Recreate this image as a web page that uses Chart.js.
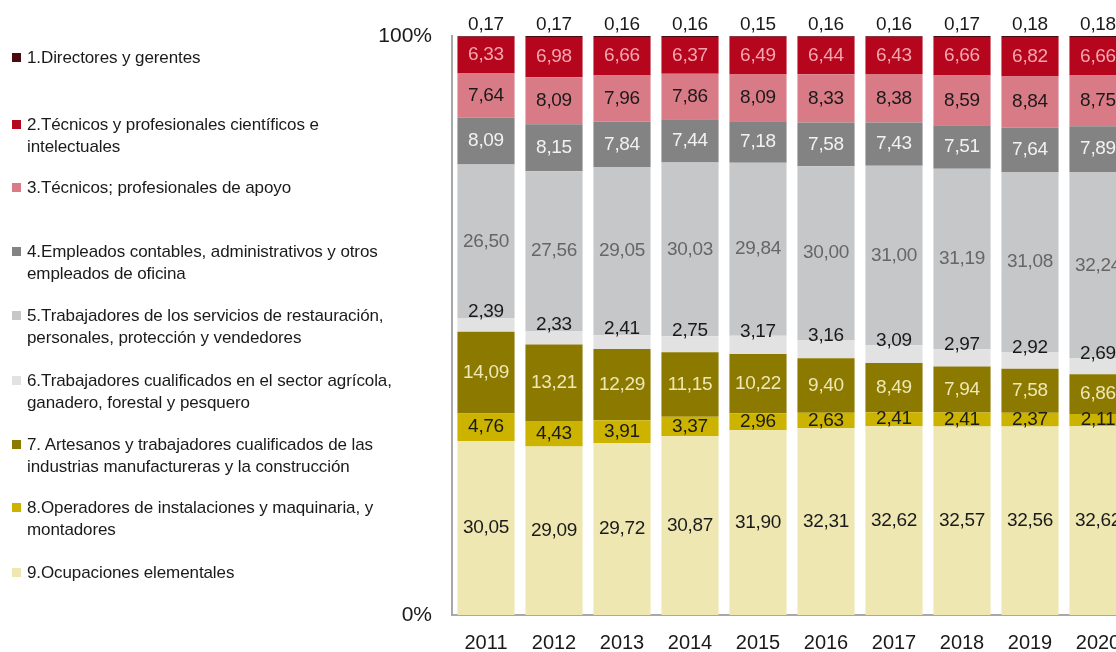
<!DOCTYPE html>
<html>
<head>
<meta charset="utf-8">
<script src="https://cdn.jsdelivr.net/npm/chart.js@4.4.0/dist/chart.umd.min.js"></script>
<style>
body { margin: 0; background: #fff; overflow: hidden; font-family: "Liberation Sans", Arial, sans-serif; }
#contenedor { position: relative; width: 1116px; height: 652px; overflow: hidden; }
#grafico { position: absolute; left: 0; top: 0; }
#leyenda { position: absolute; left: 0; top: 0; }
.item { position: absolute; left: 27px; font-size: 17px; line-height: 21.5px; color: #1a1a1a; letter-spacing: -0.1px; white-space: nowrap; }
.cuadro { position: absolute; left: -15px; top: 6px; width: 9px; height: 9px; }
</style>
</head>
<body>
<div id="contenedor">
  <canvas id="grafico" width="1140" height="652"></canvas>
  <div id="leyenda"></div>
</div>
<script>
// Datos del gráfico (porcentaje de ocupados por ocupación)
const anios = ["2011", "2012", "2013", "2014", "2015", "2016", "2017", "2018", "2019", "2020"];

const categorias = [
    ["1.Directores y gerentes"],
    ["2.Técnicos y profesionales científicos e", "intelectuales"],
    ["3.Técnicos; profesionales de apoyo"],
    ["4.Empleados contables, administrativos y otros", "empleados de oficina"],
    ["5.Trabajadores de los servicios de restauración,", "personales, protección y vendedores"],
    ["6.Trabajadores cualificados en el sector agrícola,", "ganadero, forestal y pesquero"],
    ["7. Artesanos y trabajadores cualificados de las", "industrias manufactureras y la construcción"],
    ["8.Operadores de instalaciones y maquinaria, y", "montadores"],
    ["9.Ocupaciones elementales"]
];

const directores = [0.17, 0.17, 0.16, 0.16, 0.15, 0.16, 0.16, 0.17, 0.18, 0.18];
const tecnicosCientificos = [6.33, 6.98, 6.66, 6.37, 6.49, 6.44, 6.43, 6.66, 6.82, 6.66];
const tecnicosApoyo = [7.64, 8.09, 7.96, 7.86, 8.09, 8.33, 8.38, 8.59, 8.84, 8.75];
const empleadosOficina = [8.09, 8.15, 7.84, 7.44, 7.18, 7.58, 7.43, 7.51, 7.64, 7.89];
const servicios = [26.50, 27.56, 29.05, 30.03, 29.84, 30.00, 31.00, 31.19, 31.08, 32.24];
const agricolas = [2.39, 2.33, 2.41, 2.75, 3.17, 3.16, 3.09, 2.97, 2.92, 2.69];
const artesanos = [14.09, 13.21, 12.29, 11.15, 10.22, 9.40, 8.49, 7.94, 7.58, 6.86];
const operadores = [4.76, 4.43, 3.91, 3.37, 2.96, 2.63, 2.41, 2.41, 2.37, 2.11];
const elementales = [30.05, 29.09, 29.72, 30.87, 31.90, 32.31, 32.62, 32.57, 32.56, 32.62];

const ticksY = [0, 100];

const series = [directores, tecnicosCientificos, tecnicosApoyo, empleadosOficina, servicios, agricolas, artesanos, operadores, elementales];
const colores = ["#4a0a12", "#b5061e", "#d97b86", "#838383", "#c6c7c9", "#e2e2e2", "#8c7900", "#cbb300", "#eee7b2"];
const coloresTexto = ["#1a1a1a", "#f4a6ae", "#1a1a1a", "#f2f2f2", "#666666", "#1a1a1a", "#eee8b4", "#1a1a1a", "#1a1a1a"];
// posición de la etiqueta: arriba de la barra, un poco más alta o centrada
const posiciones = ["arriba", "centro", "centro", "centro", "centro", "alto", "centro", "centro", "centro"];

// Leyenda a la izquierda (HTML)
const leyendaY = [58, 125, 188, 252, 316, 381, 445, 508, 573];
const leyenda = document.getElementById("leyenda");
categorias.forEach((lineas, i) => {
    const div = document.createElement("div");
    div.className = "item";
    div.style.top = (leyendaY[i] - 10.75) + "px";
    div.innerHTML = '<span class="cuadro" style="background:' + colores[i] + '"></span>' + lineas.join("<br>");
    leyenda.appendChild(div);
});

const formato = (v) => v.toFixed(2).replace(".", ",");

// Etiquetas de valores sobre cada segmento
const etiquetas = {
    id: "etiquetas",
    afterDatasetsDraw(chart) {
        const ctx = chart.ctx;
        ctx.save();
        ctx.font = '19px "Liberation Sans", Arial, sans-serif';
        ctx.letterSpacing = "-0.3px";
        ctx.textAlign = "center";
        ctx.textBaseline = "middle";
        chart.data.datasets.forEach((ds, i) => {
            chart.getDatasetMeta(i).data.forEach((barra, j) => {
                let y = (barra.y + barra.base) / 2;
                if (ds.posicion === "arriba") y = barra.y - 11;
                if (ds.posicion === "alto") y -= 13;
                ctx.fillStyle = ds.colorTexto;
                ctx.fillText(formato(ds.data[j]), barra.x, y);
            });
        });
        ctx.restore();
    }
};

// El primer dataset queda abajo: se invierte el orden
const datasets = series.map((datos, i) => ({
    label: categorias[i].join(" "),
    data: datos,
    backgroundColor: colores[i],
    colorTexto: coloresTexto[i],
    posicion: posiciones[i],
    barPercentage: 0.84,
    categoryPercentage: 1
})).reverse();

Chart.defaults.font.family = '"Liberation Sans", Arial, sans-serif';

new Chart(document.getElementById("grafico"), {
    type: "bar",
    data: { labels: anios, datasets: datasets },
    options: {
        responsive: false,
        animation: false,
        layout: { padding: { top: 36, right: 8, left: 0, bottom: 0 } },
        plugins: { legend: { display: false }, tooltip: { enabled: false } },
        scales: {
            x: {
                stacked: true,
                afterFit(escala) { escala.height = 37; },
                grid: { display: false, drawTicks: false },
                border: { display: true, color: "#a8a8a8", width: 2 },
                ticks: { color: "#1a1a1a", font: { size: 20 }, padding: 16 }
            },
            y: {
                stacked: true,
                min: 0,
                max: 100,
                afterFit(escala) { escala.width = 452; },
                afterBuildTicks(escala) { escala.ticks = ticksY.map(v => ({ value: v })); },
                grid: { display: false, drawTicks: false },
                border: { display: true, color: "#a8a8a8", width: 2 },
                ticks: { color: "#1a1a1a", font: { size: 21 }, padding: 20, callback: (v) => v + "%" }
            }
        }
    },
    plugins: [etiquetas]
});
</script>
</body>
</html>
